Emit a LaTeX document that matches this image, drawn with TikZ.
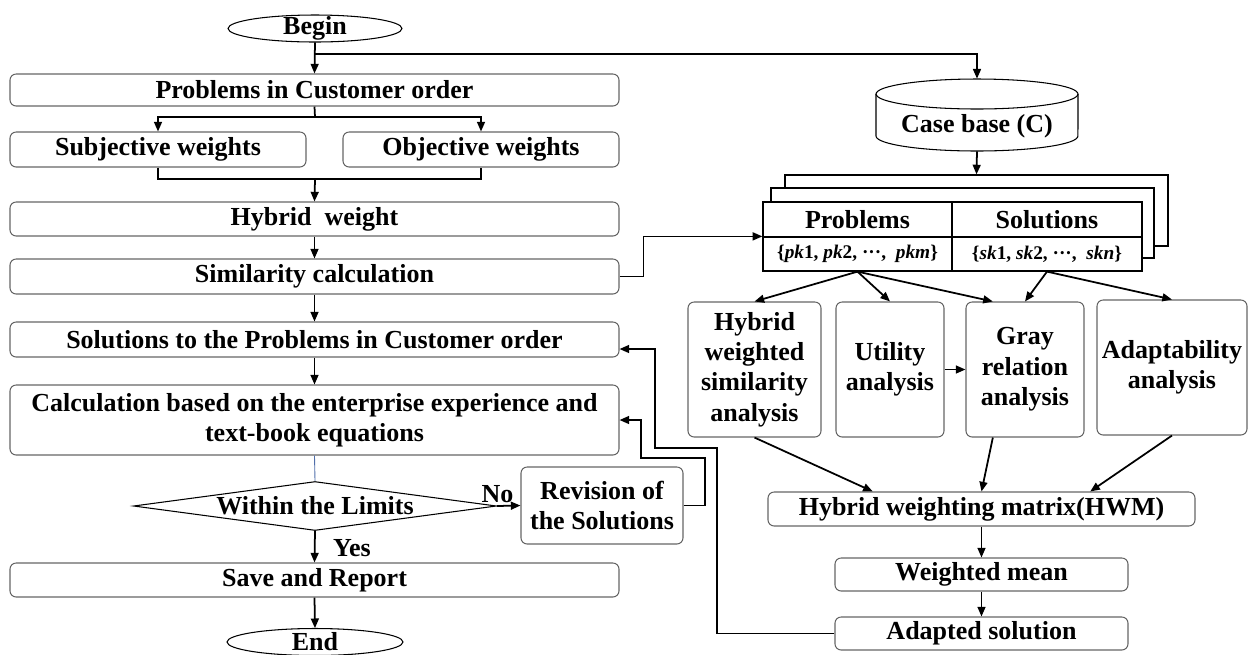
\documentclass[tikz,border=0pt]{standalone}
\usepackage{fontspec}
\setmainfont{Liberation Serif}
\usetikzlibrary{arrows.meta,calc,shapes.geometric}
% \pbox[options]{name}{x1}{y1}{x2}{y2}{text}  (pixel coordinates)
\newcommand\pbox[7][]{%
  \node[#1, minimum width={(#5-#3)*0.02cm}, minimum height={(#6-#4)*0.02cm}]
    (#2) at ({(#3+#5)/2},{(#4+#6)/2}) {#7};}
\begin{document}
\begin{tikzpicture}[x=0.02cm,y=-0.02cm,
  every node/.style={font=\fontsize{14.8}{17.3}\selectfont\bfseries},
  box/.style={draw=black!60, line width=0.6pt, rounded corners=3.5pt, inner sep=0pt, align=center},
  cell/.style={draw=black, line width=0.7pt, inner sep=0pt, fill=white, align=center},
  stk/.style={draw=black, line width=0.7pt, inner sep=0pt, fill=white},
  conn/.style={line width=1pt, -{Triangle[length=5.5pt,width=4.5pt]}},
  plain/.style={line width=1pt},
  oval/.style={inner sep=0pt, minimum width=3.48cm, minimum height=0.54cm},
  setfont/.style={font=\fontsize{11}{13}\selectfont\bfseries},
]
\useasboundingbox (0,0) rectangle (1249,654);

% ---------------- left column ----------------
\node[oval] (begin) at (315,28.5) {Begin};
\draw[line width=0.6pt] (begin.center) ellipse [x radius=1.74cm, y radius=0.27cm];
\pbox[box]{prob}{10}{74}{619}{106}{Problems in Customer order}
\pbox[box]{subj}{10}{132}{306}{167}{Subjective weights}
\pbox[box]{obj}{343}{132}{619}{167}{Objective weights}
\pbox[box]{hyb}{10}{202}{619}{236}{Hybrid\ \ weight}
\pbox[box]{sim}{10}{259}{619}{294}{Similarity calculation}
\pbox[box]{sol}{10}{322}{619}{357}{Solutions to the Problems in Customer order}
\pbox[box]{calc}{10}{385}{619}{455}{Calculation based on the enterprise experience and\\text-book equations}
\node[diamond, draw, line width=0.6pt, inner sep=0pt, aspect=7.4,
      minimum width=7.26cm, minimum height=0.98cm] (lim) at (315,506) {Within the Limits};
\pbox[box]{rev}{521}{467}{683}{544}{Revision of\\the Solutions}
\pbox[box]{save}{10}{563}{619}{597}{Save and Report}
\node[oval] (end) at (315,642) {End};
\draw[line width=0.6pt] (end.center) ellipse [x radius=1.76cm, y radius=0.27cm];

% ---------------- right column ----------------
\pbox[inner sep=0pt]{cb}{876}{79}{1078}{151}{}
\draw[line width=0.6pt] (977,94) ellipse [x radius=2.02cm, y radius=0.30cm];
\draw[line width=0.6pt] (876,94) -- (876,136) arc[start angle=180, end angle=360, x radius=2.02cm, y radius=0.30cm] -- (1078,94);
\node (cbt) at (977,126) {Case base (C)};

\pbox[stk]{st3}{785}{175}{1168}{246}{}
\pbox[stk]{st2}{771}{188}{1154}{258}{}
\pbox[cell]{tp}{763}{202}{952}{237}{Problems}
\pbox[cell]{ts}{952}{202}{1142}{237}{Solutions}
\pbox[cell,setfont]{tpk}{763}{237}{952}{271}{\{\textit{pk}1, \textit{pk}2, ···,\ \ \textit{pkm}\}}
\pbox[cell,setfont]{tsk}{952}{237}{1142}{271}{\{\textit{sk}1, \textit{sk}2, ···,\ \ \textit{skn}\}}

\pbox[box]{hws}{688}{302}{821}{437}{Hybrid\\weighted\\similarity\\analysis}
\pbox[box]{util}{836}{302}{944}{437}{Utility\\analysis}
\pbox[box]{gray}{966}{302}{1084}{437}{Gray\\relation\\analysis}
\pbox[box]{adapt}{1097}{300}{1247}{435}{Adaptability\\analysis}
\pbox[box]{hwm}{768}{492}{1195}{526}{Hybrid weighting matrix(HWM)}
\pbox[box]{wm}{835}{558}{1128}{591}{Weighted mean}
\pbox[box]{ad}{835}{617}{1128}{650}{Adapted solution}

% ---------------- connectors ----------------
\coordinate (bj) at (315,54);
\coordinate (pj) at (315,117);
\coordinate (wj) at (315,179);
\draw[conn] (begin.south) -- (prob.north);
\draw[conn] (bj) -| (cb.north);
\draw[plain] (prob.south) -- (pj);
\draw[conn] (pj) -| (subj.north);
\draw[conn] (pj) -| (obj.north);
\draw[plain] (subj.south) |- (wj) -| (obj.south);
\draw[conn] (wj) -- (hyb.north);
\draw[conn] (hyb.south) -- (sim.north);
\draw[conn] (sim.south) -- (sol.north);
\draw[conn] (sol.south) -- (calc.north);
\draw[line width=0.5pt, draw={rgb,255:red,80;green,110;blue,170}] (calc.south) -- (lim.north);
\draw[conn] (lim.east) -- node[above, pos=0.02, inner sep=1.5pt] {No} (rev.west);
\draw[conn] (lim.south) -- node[anchor=west, pos=0.55, xshift=10pt, inner sep=0pt] {Yes} (save.north);
\draw[conn] (save.south) -- (end.north);

\draw[conn] (cb.south) -- (st3.north);
\draw[conn] (sim.east) -- ++(24,0) |- (tpk.north west);

\draw[conn] (tpk.south) -- (hws.north);
\draw[conn] (tpk.south) -- (util.north);
\draw[conn] (tpk.south) -- ($(gray.north west)!0.23!(gray.north east)$);
\draw[conn] (tsk.south) -- (gray.north);
\draw[conn] (tsk.south) -- (adapt.north);
\draw[conn] (util.east) -- (gray.west);
\draw[conn] (hws.south) -- ($(hwm.north west)!0.246!(hwm.north east)$);
\draw[conn] ($(gray.south west)!0.23!(gray.south east)$) -- (hwm.north);
\draw[conn] (adapt.south) -- ($(hwm.north west)!0.754!(hwm.north east)$);
\draw[conn] (hwm.south) -- (wm.north);
\draw[conn] (wm.south) -- (ad.north);

\coordinate (f1a) at (717,448);
\coordinate (f1b) at (655,349);
\draw[conn] (ad.west) -| (f1a) -| (f1b) -- (f1b -| sol.east);
\coordinate (f2a) at (705,458);
\coordinate (f2b) at (641,420);
\draw[conn] (rev.east) -| (f2a) -| (f2b) -- (f2b -| calc.east);
\end{tikzpicture}
\end{document}
